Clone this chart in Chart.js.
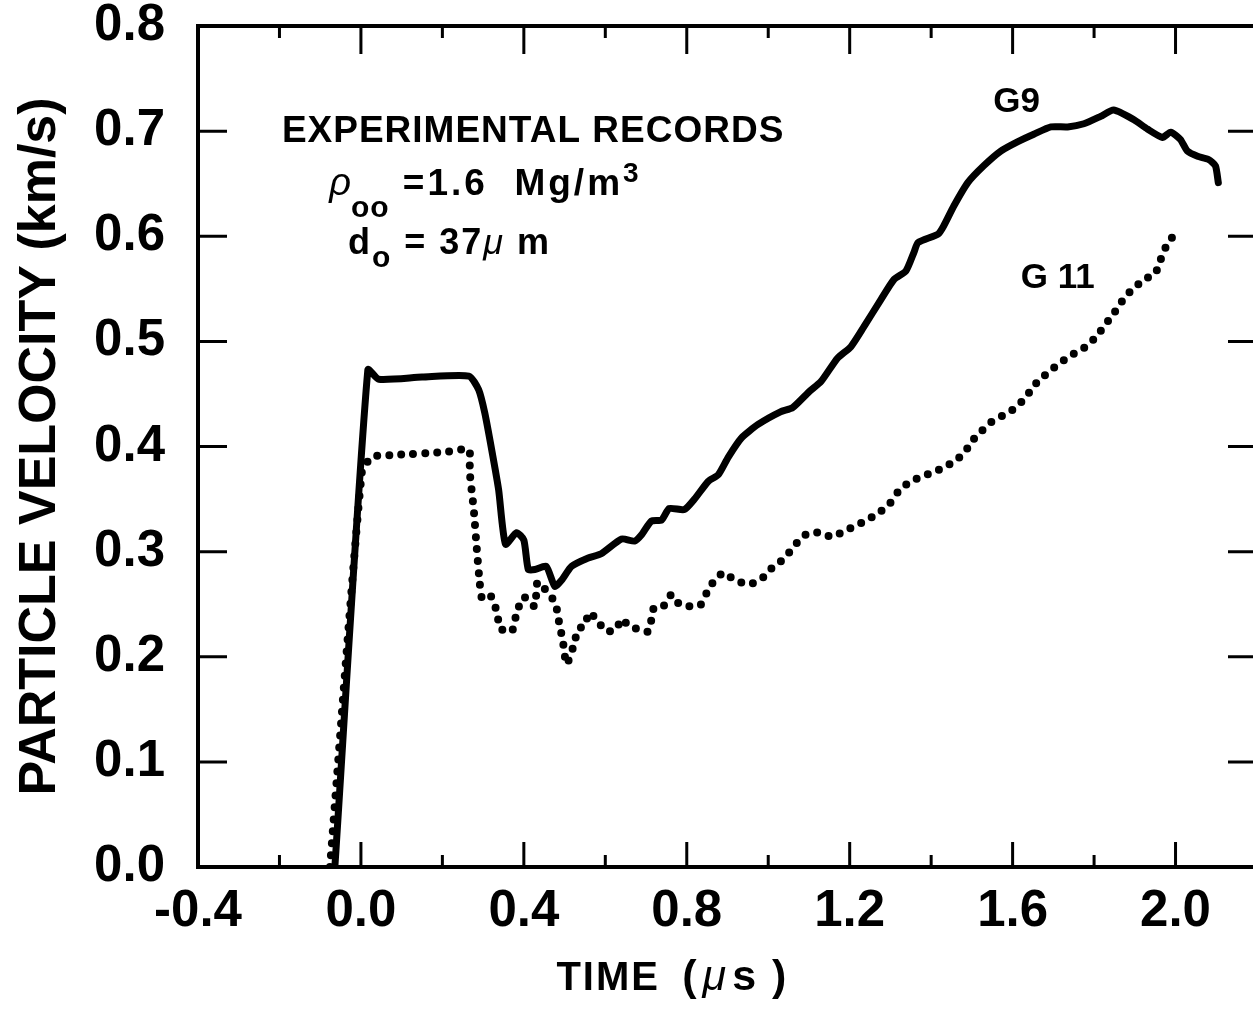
<!DOCTYPE html>
<html>
<head>
<meta charset="utf-8">
<script src="https://cdn.jsdelivr.net/npm/chart.js@4.4.0/dist/chart.umd.min.js"></script>
<style>
    html, body { margin: 0; padding: 0; background: #fff; overflow: hidden; }
    .grafico { width: 1262px; height: 1017px; }
</style>
</head>
<body>
<div class="grafico"><canvas id="graficoVelocidade"></canvas></div>
<script>
// --- Registros experimentais: tempo (µs) x velocidade da partícula (km/s) ---
const g9Tempo = [-0.064, 0.017, 0.044, 0.15, 0.265, 0.289, 0.304, 0.321, 0.338, 0.355, 0.382, 0.40, 0.411,
    0.427, 0.455, 0.476, 0.493, 0.517, 0.558, 0.59, 0.64, 0.672, 0.689, 0.713, 0.738, 0.757, 0.794, 0.819,
    0.853, 0.877, 0.902, 0.934, 0.975, 1.03, 1.06, 1.1, 1.13, 1.17, 1.203, 1.235, 1.277, 1.309, 1.338,
    1.358, 1.368, 1.417, 1.431, 1.456, 1.49, 1.529, 1.571, 1.613, 1.652, 1.694, 1.735, 1.775, 1.816,
    1.848, 1.897, 1.931, 1.968, 1.988, 2.012, 2.029, 2.054, 2.081, 2.098, 2.105];
const g9Velocidade = [0.0, 0.473, 0.464, 0.466, 0.467, 0.454, 0.432, 0.397, 0.359, 0.307, 0.318, 0.311, 0.283,
    0.283, 0.286, 0.267, 0.273, 0.286, 0.294, 0.298, 0.312, 0.31, 0.316, 0.329, 0.33, 0.341, 0.34, 0.35,
    0.367, 0.373, 0.39, 0.408, 0.421, 0.433, 0.437, 0.452, 0.462, 0.484, 0.495, 0.514, 0.54, 0.559, 0.567,
    0.585, 0.594, 0.602, 0.61, 0.629, 0.651, 0.667, 0.681, 0.69, 0.697, 0.704, 0.704, 0.707, 0.714,
    0.72, 0.711, 0.702, 0.694, 0.699, 0.692, 0.681, 0.676, 0.673, 0.667, 0.651];

const g11Tempo = [-0.076, 0.002, 0.027, 0.088, 0.211, 0.265, 0.267, 0.277, 0.284, 0.292, 0.297, 0.316, 0.328,
    0.336, 0.341, 0.37, 0.378, 0.387, 0.40, 0.427, 0.434, 0.476, 0.483, 0.488, 0.495, 0.505, 0.525, 0.532,
    0.551, 0.559, 0.581, 0.598, 0.623, 0.642, 0.657, 0.686, 0.706, 0.713, 0.72, 0.745, 0.762, 0.779, 0.804,
    0.833, 0.848, 0.863, 0.89, 0.917, 0.953, 0.983, 1.005, 1.029, 1.051, 1.074, 1.096, 1.125, 1.157, 1.184,
    1.216, 1.243, 1.275, 1.299, 1.319, 1.343, 1.373, 1.402, 1.431, 1.461, 1.483, 1.502, 1.522, 1.547,
    1.574, 1.6, 1.623, 1.642, 1.662, 1.686, 1.708, 1.733, 1.757, 1.784, 1.806, 1.824, 1.843, 1.86, 1.877,
    1.9, 1.922, 1.949, 1.961, 1.971, 1.99, 2.01];
const g11Velocidade = [0.0, 0.375, 0.39, 0.392, 0.395, 0.397, 0.376, 0.34, 0.305, 0.269, 0.256, 0.259, 0.25,
    0.238, 0.227, 0.224, 0.235, 0.247, 0.257, 0.248, 0.271, 0.252, 0.241, 0.229, 0.217, 0.193, 0.214, 0.226,
    0.23, 0.242, 0.235, 0.225, 0.225, 0.236, 0.229, 0.226, 0.224, 0.235, 0.247, 0.249, 0.259, 0.251, 0.248,
    0.249, 0.26, 0.27, 0.28, 0.273, 0.269, 0.274, 0.283, 0.29, 0.299, 0.31, 0.317, 0.318, 0.314, 0.319,
    0.325, 0.33, 0.338, 0.346, 0.357, 0.365, 0.371, 0.375, 0.38, 0.387, 0.395, 0.406, 0.414, 0.423,
    0.429, 0.435, 0.443, 0.452, 0.462, 0.47, 0.477, 0.484, 0.49, 0.496, 0.505, 0.514, 0.524, 0.533, 0.543,
    0.551, 0.559, 0.564, 0.575, 0.586, 0.598, 0.606];

// --- Marcas dos eixos ---
const xMarcasMaiores = [0.0, 0.4, 0.8, 1.2, 1.6, 2.0];
const xMarcasMenores = [-0.2, 0.2, 0.6, 1.0, 1.4, 1.8];
const yMarcas = [0.1, 0.2, 0.3, 0.4, 0.5, 0.6, 0.7];

const fonte = '"Liberation Sans", Arial, sans-serif';

function montarPontos(tempos, velocidades) {
    return tempos.map((t, i) => ({ x: t, y: velocidades[i] }));
}

// Moldura completa com marcas para dentro (em cima, embaixo, esquerda e direita)
const molduraPlugin = {
    id: 'moldura',
    afterDraw(chart) {
        const { ctx, chartArea: a, scales: { x, y } } = chart;
        ctx.save();
        ctx.strokeStyle = '#000';
        ctx.lineWidth = 4;
        ctx.strokeRect(a.left, a.top, a.right - a.left, a.bottom - a.top);

        ctx.lineWidth = 3;
        ctx.beginPath();
        xMarcasMaiores.forEach(v => {
            const px = x.getPixelForValue(v);
            ctx.moveTo(px, a.bottom); ctx.lineTo(px, a.bottom - 25);
            ctx.moveTo(px, a.top); ctx.lineTo(px, a.top + 28);
        });
        xMarcasMenores.forEach(v => {
            const px = x.getPixelForValue(v);
            ctx.moveTo(px, a.bottom); ctx.lineTo(px, a.bottom - 12);
            ctx.moveTo(px, a.top); ctx.lineTo(px, a.top + 12);
        });
        yMarcas.forEach(v => {
            const py = y.getPixelForValue(v);
            ctx.moveTo(a.left, py); ctx.lineTo(a.left + 29, py);
            ctx.moveTo(a.right, py); ctx.lineTo(a.right - 29, py);
        });
        ctx.stroke();
        ctx.restore();
    }
};

// Escreve um texto em partes (subscrito, sobrescrito, grego em itálico)
// cada parte: [texto, fonte, deslocamento vertical, espaçamento entre letras]
function escrever(ctx, partes, x0, base) {
    let cx = x0;
    partes.forEach(([texto, f, dy, espaco = 0]) => {
        ctx.font = f;
        ctx.letterSpacing = espaco + 'px';
        ctx.fillText(texto, cx, base + dy);
        cx += ctx.measureText(texto).width;
    });
    ctx.letterSpacing = '0px';
}

const textosPlugin = {
    id: 'textos',
    afterDraw(chart) {
        const { ctx, scales: { x, y } } = chart;
        ctx.save();
        ctx.fillStyle = '#000';
        ctx.textBaseline = 'alphabetic';
        ctx.textAlign = 'left';

        escrever(ctx, [
            ['EXPERIMENTAL RECORDS', `bold 37px ${fonte}`, 0, 1]
        ], x.getPixelForValue(-0.194), y.getPixelForValue(0.690));

        escrever(ctx, [
            ['\u03C1', `italic 38px ${fonte}`, 0, 0],
            ['oo', `bold 30px ${fonte}`, 22, 1],
            [' =1.6  Mg/m', `bold 37px ${fonte}`, 0, 3],
            ['3', `bold 28px ${fonte}`, -13, 0]
        ], x.getPixelForValue(-0.078), y.getPixelForValue(0.639));

        escrever(ctx, [
            ['d', `bold 36px ${fonte}`, 0, 2],
            ['o', `bold 30px ${fonte}`, 13, 2],
            [' = 37', `bold 36px ${fonte}`, 0, 2],
            ['\u03BC', `italic 36px ${fonte}`, 0, 2],
            [' m', `bold 36px ${fonte}`, 0, 2]
        ], x.getPixelForValue(-0.032), y.getPixelForValue(0.583));

        ctx.textAlign = 'center';
        ctx.font = `bold 35px ${fonte}`;
        ctx.fillText('G9', x.getPixelForValue(1.61), y.getPixelForValue(0.718));
        ctx.fillText('G 11', x.getPixelForValue(1.711), y.getPixelForValue(0.551));

        // título do eixo x
        ctx.textAlign = 'left';
        escrever(ctx, [
            ['TIME', `bold 40px ${fonte}`, 0, 2]
        ], x.getPixelForValue(0.48), chart.height - 27);
        escrever(ctx, [
            ['(', `bold 43px ${fonte}`, 0, 6],
            ['\u03BC', `italic 43px ${fonte}`, 0, 6],
            ['s', `bold 43px ${fonte}`, 0, 4],
            [' )', `bold 43px ${fonte}`, 0, 0]
        ], x.getPixelForValue(0.789), chart.height - 27);
        ctx.restore();
    }
};

const ctxGrafico = document.getElementById('graficoVelocidade').getContext('2d');
new Chart(ctxGrafico, {
    type: 'line',
    data: {
        datasets: [
            {
                label: 'G9',
                data: montarPontos(g9Tempo, g9Velocidade),
                borderColor: '#000',
                borderWidth: 7,
                borderJoinStyle: 'round',
                borderCapStyle: 'round',
                pointRadius: 0,
                tension: 0.2
            },
            {
                label: 'G11',
                data: montarPontos(g11Tempo, g11Velocidade),
                borderColor: '#000',
                borderWidth: 8,
                borderDash: [0, 12],
                borderCapStyle: 'round',
                pointRadius: 0,
                tension: 0.2
            }
        ]
    },
    options: {
        responsive: true,
        maintainAspectRatio: false,
        animation: false,
        layout: { padding: { top: 26, right: 5, left: 0, bottom: 0 } },
        plugins: {
            legend: { display: false },
            tooltip: { enabled: false }
        },
        scales: {
            x: {
                type: 'linear',
                min: -0.4,
                max: 2.2,
                grid: { display: false, drawTicks: false },
                border: { display: false },
                ticks: {
                    stepSize: 0.4,
                    includeBounds: false,
                    padding: 14,
                    color: '#000',
                    font: { family: fonte, size: 51, weight: 'bold', lineHeight: 1.2 },
                    maxRotation: 0,
                    callback: v => v.toFixed(1)
                },
                afterFit: escala => { escala.height = 150; }
            },
            y: {
                min: 0,
                max: 0.8,
                grid: { display: false, drawTicks: false },
                border: { display: false },
                ticks: {
                    stepSize: 0.1,
                    padding: 33,
                    color: '#000',
                    font: { family: fonte, size: 51, weight: 'bold', lineHeight: 1 },
                    callback: v => v.toFixed(1)
                },
                title: {
                    display: true,
                    text: 'PARTICLE VELOCITY (km/s)',
                    color: '#000',
                    font: { family: fonte, size: 52, weight: 'bold', lineHeight: 1 },
                    padding: { top: 15, bottom: 0 }
                },
                afterFit: escala => {
                    escala.width = 198;
                    escala.paddingTop = 0;
                    escala.paddingBottom = 0;
                }
            }
        }
    },
    plugins: [molduraPlugin, textosPlugin]
});
</script>
</body>
</html>
